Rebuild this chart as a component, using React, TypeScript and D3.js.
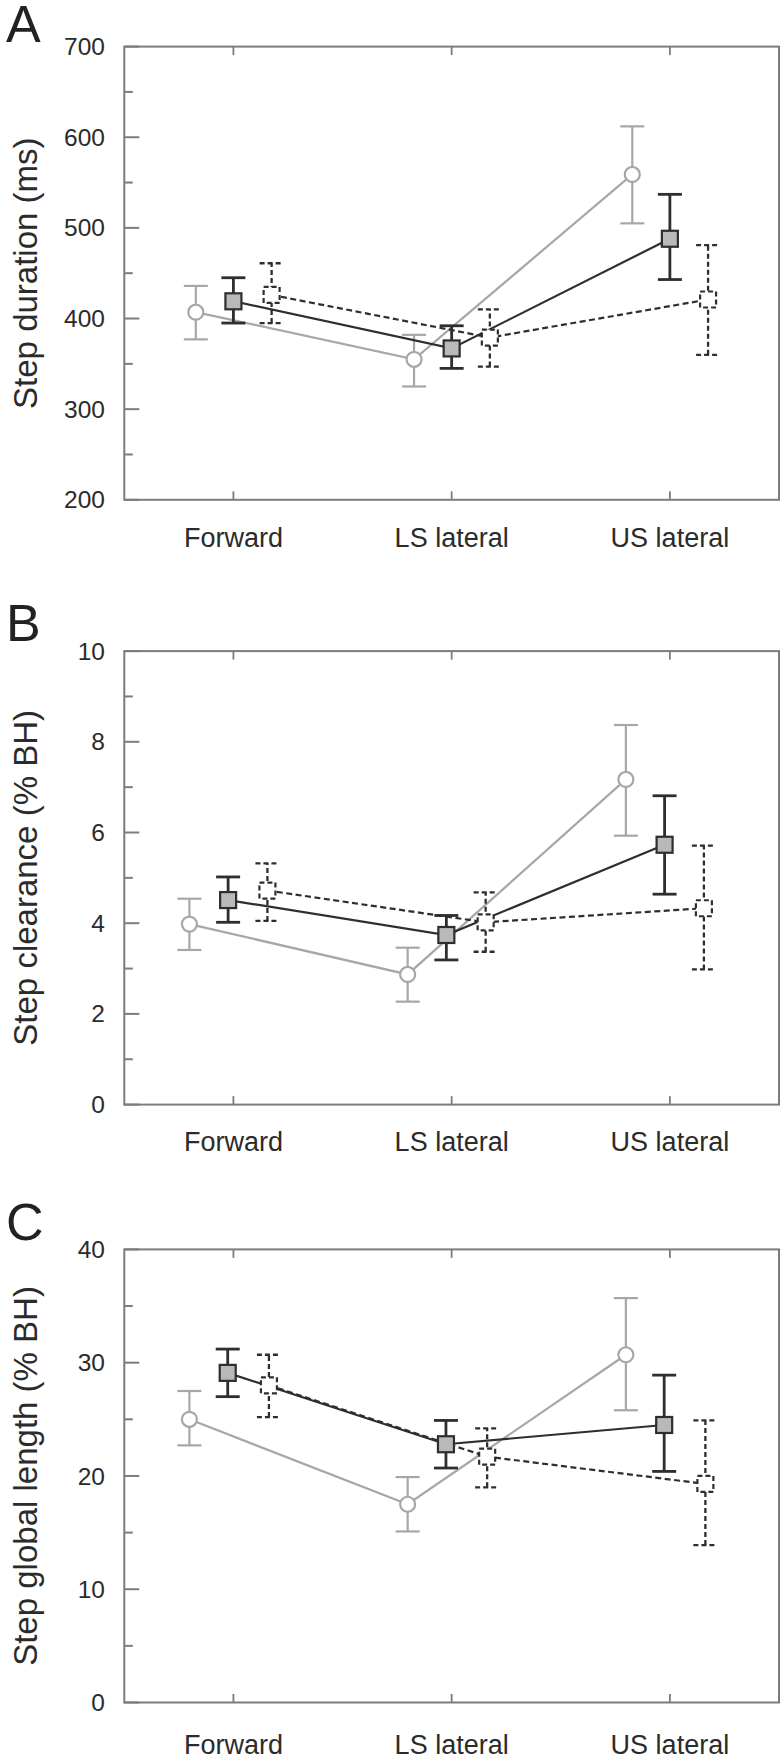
import React from 'react';
import * as d3 from 'd3';

// categories on the x axis
const categories = ['Forward', 'LS lateral', 'US lateral'];

// Panel A - step duration (ms)
const durationTicks = [200, 300, 400, 500, 600, 700];
const durationMinor = [250, 350, 450, 550, 650];
const durationGray = [407, 355, 559];
const durationGrayLo = [377, 325, 505];
const durationGrayHi = [436, 382, 612];
const durationSolid = [419, 367, 488];
const durationSolidLo = [395, 345, 443];
const durationSolidHi = [445, 392, 537];
const durationDashed = [426, 379, 421];
const durationDashedLo = [395, 347, 360];
const durationDashedHi = [461, 410, 481];

// Panel B - step clearance (% BH)
const clearanceTicks = [0, 2, 4, 6, 8, 10];
const clearanceMinor = [1, 3, 5, 7, 9];
const clearanceGray = [3.98, 2.87, 7.17];
const clearanceGrayLo = [3.41, 2.27, 5.93];
const clearanceGrayHi = [4.54, 3.46, 8.37];
const clearanceSolid = [4.51, 3.74, 5.73];
const clearanceSolidLo = [4.02, 3.19, 4.64];
const clearanceSolidHi = [5.02, 4.17, 6.81];
const clearanceDashed = [4.72, 4.02, 4.33];
const clearanceDashedLo = [4.05, 3.37, 2.98];
const clearanceDashedHi = [5.32, 4.68, 5.71];

// Panel C - step global length (% BH)
const lengthTicks = [0, 10, 20, 30, 40];
const lengthMinor = [5, 15, 25, 35];
const lengthGray = [25.0, 17.5, 30.7];
const lengthGrayLo = [22.7, 15.1, 25.8];
const lengthGrayHi = [27.5, 19.9, 35.7];
const lengthSolid = [29.1, 22.8, 24.5];
const lengthSolidLo = [27.0, 20.7, 20.4];
const lengthSolidHi = [31.2, 24.9, 28.9];
const lengthDashed = [28.0, 21.7, 19.3];
const lengthDashedLo = [25.2, 19.0, 13.9];
const lengthDashedHi = [30.7, 24.2, 24.9];

const panels = [
  {
    letter: 'A', title: 'Step duration (ms)', domain: [200, 700], ticks: durationTicks, minor: durationMinor,
    series: [
      { kind: 'gray', mean: durationGray, lo: durationGrayLo, hi: durationGrayHi },
      { kind: 'solid', mean: durationSolid, lo: durationSolidLo, hi: durationSolidHi },
      { kind: 'dashed', mean: durationDashed, lo: durationDashedLo, hi: durationDashedHi },
    ],
  },
  {
    letter: 'B', title: 'Step clearance (% BH)', domain: [0, 10], ticks: clearanceTicks, minor: clearanceMinor,
    series: [
      { kind: 'gray', mean: clearanceGray, lo: clearanceGrayLo, hi: clearanceGrayHi },
      { kind: 'solid', mean: clearanceSolid, lo: clearanceSolidLo, hi: clearanceSolidHi },
      { kind: 'dashed', mean: clearanceDashed, lo: clearanceDashedLo, hi: clearanceDashedHi },
    ],
  },
  {
    letter: 'C', title: 'Step global length (% BH)', domain: [0, 40], ticks: lengthTicks, minor: lengthMinor,
    series: [
      { kind: 'gray', mean: lengthGray, lo: lengthGrayLo, hi: lengthGrayHi },
      { kind: 'solid', mean: lengthSolid, lo: lengthSolidLo, hi: lengthSolidHi },
      { kind: 'dashed', mean: lengthDashed, lo: lengthDashedLo, hi: lengthDashedHi },
    ],
  },
];

const W = 780;
const H = 1759;
const frameLeft = 124.3;
const frameRight = 779;
const font = 'Liberation Sans, Arial, Helvetica, sans-serif';
const frameColor = '#7c7c7c';
const textColor = '#2b2b2b';

const layout = [
  { top: 46.6, bottom: 499.8, labelY: 546.7, letterY: 42, offsets: { gray: -37.6, solid: 0, dashed: 38.2 } },
  { top: 651.1, bottom: 1104.6, labelY: 1151, letterY: 641, offsets: { gray: -44, solid: -5.3, dashed: 34 } },
  { top: 1249.4, bottom: 1702.5, labelY: 1754, letterY: 1240, offsets: { gray: -44, solid: -5.7, dashed: 35.5 } },
];

const styles: Record<string, any> = {
  gray: { stroke: '#a7a7a7', dash: null, barDash: null, barWidth: 2.2, lineWidth: 2.2 },
  solid: { stroke: '#2e2e2e', dash: null, barDash: null, barWidth: 2.8, lineWidth: 2.2 },
  dashed: { stroke: '#2e2e2e', dash: '6,3.5', barDash: '5,3', barWidth: 2.3, lineWidth: 2.2 },
};

const x = d3.scalePoint<string>().domain(categories).range([frameLeft, frameRight]).padding(0.5);

function Panel({ panel, lay }: { panel: any; lay: any }) {
  const y = d3.scaleLinear().domain(panel.domain).range([lay.bottom, lay.top]);
  const cap = 12;
  const line = d3.line<[number, number]>();

  const pts = (s: any) =>
    categories.map((c, i) => [(x(c) as number) + lay.offsets[s.kind], y(s.mean[i])] as [number, number]);

  return (
    <g>
      <text x={6} y={lay.letterY} fontSize={52} fontFamily={font} fill="#222">{panel.letter}</text>
      <text
        transform={`translate(37,${(lay.top + lay.bottom) / 2}) rotate(-90)`}
        textAnchor="middle"
        fontSize={33}
        fontFamily={font}
        fill={textColor}
      >
        {panel.title}
      </text>

      {/* frame */}
      <rect x={frameLeft} y={lay.top} width={frameRight - frameLeft} height={lay.bottom - lay.top}
        fill="none" stroke={frameColor} strokeWidth={2} />

      {/* y ticks */}
      {panel.ticks.map((t: number) => (
        <g key={'t' + t}>
          <line x1={frameLeft} x2={frameLeft + 15} y1={y(t)} y2={y(t)} stroke={frameColor} strokeWidth={2} />
          <text x={105} y={y(t)} dy="0.35em" textAnchor="end" fontSize={24.5} fontFamily={font} fill={textColor}>{t}</text>
        </g>
      ))}
      {panel.minor.map((t: number) => (
        <line key={'m' + t} x1={frameLeft} x2={frameLeft + 8.5} y1={y(t)} y2={y(t)} stroke={frameColor} strokeWidth={2} />
      ))}

      {/* x ticks */}
      {categories.map((c) => (
        <g key={c}>
          <line x1={x(c)} x2={x(c)} y1={lay.bottom} y2={lay.bottom - 8.5} stroke={frameColor} strokeWidth={1.8} />
          <line x1={x(c)} x2={x(c)} y1={lay.top} y2={lay.top + 8.5} stroke={frameColor} strokeWidth={1.8} />
          <text x={x(c)} y={lay.labelY} textAnchor="middle" fontSize={27} fontFamily={font} fill={textColor}>{c}</text>
        </g>
      ))}

      {/* lines and error bars */}
      {panel.series.map((s: any) => {
        const st = styles[s.kind];
        const p = pts(s);
        return (
          <g key={'l' + s.kind}>
            <path d={line(p) as string} fill="none" stroke={st.stroke} strokeWidth={st.lineWidth}
              strokeDasharray={st.dash || undefined} />
            {categories.map((c, i) => {
              const cx = p[i][0];
              const yl = y(s.lo[i]);
              const yh = y(s.hi[i]);
              return (
                <g key={c} stroke={st.stroke} strokeWidth={st.barWidth} strokeDasharray={st.barDash || undefined}>
                  <line x1={cx} x2={cx} y1={yl} y2={yh} />
                  <line x1={cx - cap} x2={cx + cap} y1={yh} y2={yh} />
                  <line x1={cx - cap} x2={cx + cap} y1={yl} y2={yl} />
                </g>
              );
            })}
          </g>
        );
      })}

      {/* markers */}
      {panel.series.map((s: any) => {
        const p = pts(s);
        return (
          <g key={'k' + s.kind}>
            {p.map(([cx, cy], i) =>
              s.kind === 'gray' ? (
                <circle key={i} cx={cx} cy={cy} r={7.5} fill="#fff" stroke="#a7a7a7" strokeWidth={2.2} />
              ) : s.kind === 'solid' ? (
                <rect key={i} x={cx - 8} y={cy - 8} width={16} height={16} fill="#b9b9b9" stroke="#2e2e2e" strokeWidth={2.2} />
              ) : (
                <rect key={i} x={cx - 8} y={cy - 8} width={16} height={16} fill="#fff" stroke="#2e2e2e"
                  strokeWidth={2.2} strokeDasharray="5,3" />
              )
            )}
          </g>
        );
      })}
    </g>
  );
}

export default function App() {
  return (
    <div>
      <style>{'body{margin:0}'}</style>
      <svg width={W} height={H} style={{ display: 'block', background: '#fff' }}>
        {panels.map((p, i) => (
          <Panel key={p.letter} panel={p} lay={layout[i]} />
        ))}
      </svg>
    </div>
  );
}
